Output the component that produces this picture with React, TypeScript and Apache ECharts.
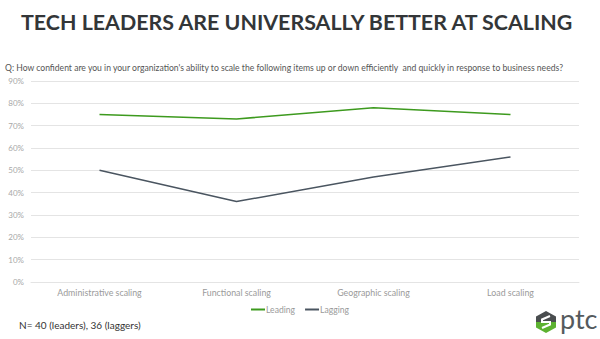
import React, { useEffect, useRef } from "react";
import * as echarts from "echarts";

const categories = ["Administrative scaling", "Functional scaling", "Geographic scaling", "Load scaling"];
const leading = [75, 73, 78, 75];
const lagging = [50, 36, 47, 56];
const seriesNames = ["Leading", "Lagging"];
const titleText = "TECH LEADERS ARE UNIVERSALLY BETTER AT SCALING";
const questionText =
  "Q: How confident are you in your organization's ability to scale the following items up or down efficiently  and quickly in response to business needs?";
const noteText = "N= 40 (leaders), 36 (laggers)";

export default function App() {
  const ref = useRef<HTMLDivElement>(null);
  useEffect(() => {
    if (!ref.current) return;
    const chart = echarts.init(ref.current, null, { renderer: "svg" });
    const font = "Lato, 'Open Sans', sans-serif";
    chart.setOption({
      animation: false,
      backgroundColor: "#ffffff",
      textStyle: { fontFamily: font },
      grid: { left: 31, right: 21, top: 81, bottom: 57, containLabel: false },
      legend: {
        data: seriesNames,
        left: 246,
        top: 300,
        itemWidth: 14,
        itemHeight: 2,
        itemGap: 10,
        icon: "rect",
        textStyle: { color: "#9a9a9a", fontSize: 8.6, fontFamily: font, padding: [0, 0, 0, -4] },
      },
      xAxis: {
        type: "category",
        data: categories,
        boundaryGap: true,
        axisLine: { show: true, lineStyle: { color: "#e4e4e4" } },
        axisTick: { show: false },
        axisLabel: { color: "#9a9a9a", fontSize: 8.8, margin: 6, fontFamily: font },
      },
      yAxis: {
        type: "value",
        min: 0,
        max: 90,
        interval: 10,
        axisLine: { show: false },
        axisTick: { show: false },
        splitLine: { lineStyle: { color: "#e4e4e4", width: 1 } },
        axisLabel: { formatter: "{value}%", color: "#a8a8a8", fontSize: 8, margin: 7, fontFamily: font },
      },
      series: [
        {
          name: seriesNames[0],
          type: "line",
          data: leading,
          symbol: "none",
          lineStyle: { color: "#3d9a1e", width: 1.5 },
          itemStyle: { color: "#3d9a1e" },
        },
        {
          name: seriesNames[1],
          type: "line",
          data: lagging,
          symbol: "none",
          lineStyle: { color: "#4a5560", width: 1.5 },
          itemStyle: { color: "#4a5560" },
        },
      ],
      graphic: [
        {
          type: "text",
          left: 21,
          top: 11,
          style: { text: titleText, fill: "#333638", font: `bold 21.4px ${font}` },
        },
        {
          type: "text",
          left: 5,
          top: 63,
          style: { text: questionText, fill: "#555", font: `8.6px ${font}` },
        },
        {
          type: "text",
          left: 19,
          top: 320,
          style: { text: noteText, fill: "#333", font: `10px ${font}` },
        },
        {
          type: "group",
          left: 536,
          top: 311,
          children: [
            { type: "polygon", shape: { points: [[10, 0], [20, 5.5], [20, 11], [0, 11], [0, 5.5]] }, style: { fill: "#4a4d4f" } },
            { type: "polygon", shape: { points: [[0, 11], [20, 11], [20, 16.5], [10, 22], [0, 16.5]] }, style: { fill: "#5db231" } },
            {
              type: "polyline",
              shape: { points: [[14, 5], [6, 8.5], [6, 11], [14, 11], [14, 13.5], [6, 17]] },
              style: { stroke: "#ffffff", lineWidth: 2, fill: "none" },
            },
          ],
        },
        {
          type: "text",
          left: 560,
          top: 305,
          style: { text: "ptc", fill: "#555a5d", font: `27px ${font}` },
        },
      ],
    });
    return () => chart.dispose();
  }, []);
  return <div ref={ref} style={{ width: 600, height: 339, position: "absolute", left: 0, top: 0 }} />;
}
